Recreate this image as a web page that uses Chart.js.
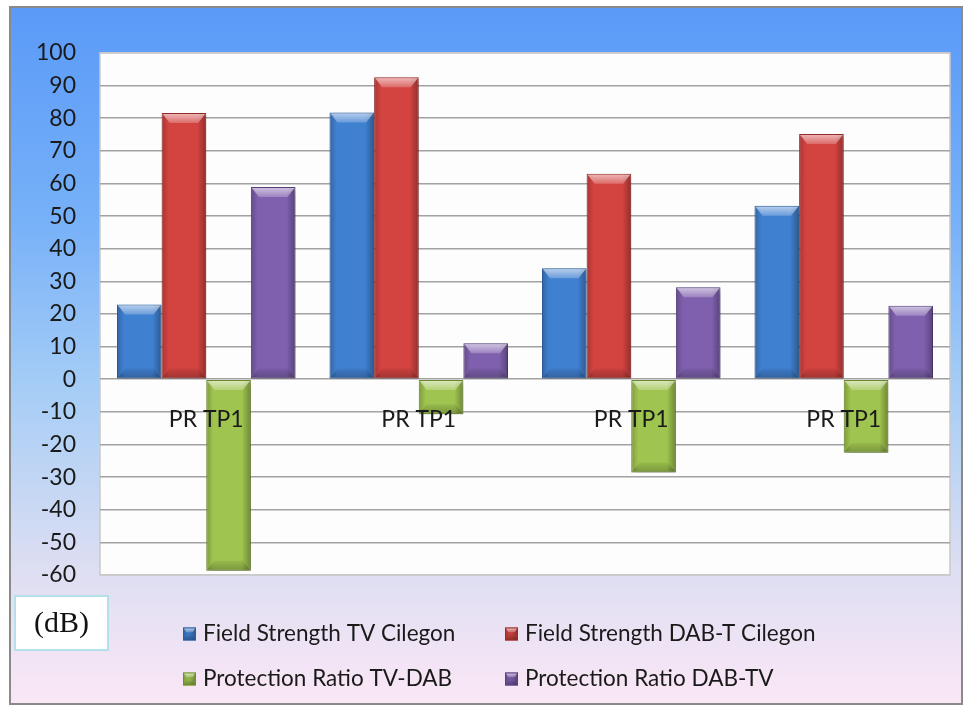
<!DOCTYPE html>
<html>
<head>
<meta charset="utf-8">
<title>PR TP1 – Field Strength and Protection Ratio</title>
<script src="https://cdn.jsdelivr.net/npm/chart.js@4.4.1/dist/chart.umd.min.js"></script>
<style>
  html, body { margin: 0; padding: 0; background: #ffffff; }
  #wrap { position: relative; width: 968px; height: 708px; }
</style>
</head>
<body>
<div id="wrap"><canvas id="chart" width="968" height="708"></canvas></div>
<script>
// Measurement points (all four columns are the same site label)
const categories = ['PR TP1', 'PR TP1', 'PR TP1', 'PR TP1'];

// Values in dB
const fieldStrengthTV = [22.9, 81.8, 34.0, 53.2];
const fieldStrengthDAB = [81.6, 92.6, 63.0, 75.2];
const protectionTvDab = [-58.7, -10.7, -28.6, -22.5];
const protectionDabTv = [58.9, 11.0, 28.2, 22.5];

const seriesNames = [
  'Field Strength TV Cilegon',
  'Field Strength DAB-T Cilegon',
  'Protection Ratio TV-DAB',
  'Protection Ratio DAB-TV'
];

// Value axis range and step
const yMin = -60;
const yMax = 100;
const yStep = 10;

const unitLabel = '(dB)';

const fills = ['#4080d0', '#d34340', '#9fc44f', '#7f60ae'];
const edges = ['#2c5f9e', '#982d2b', '#6e8d2e', '#58417f'];

const FONT = 'Lato';

// Background frame, plot area and unit box
const framePlugin = {
  id: 'frame',
  beforeDraw(chart) {
    const ctx = chart.ctx;
    const a = chart.chartArea;
    ctx.save();
    ctx.fillStyle = '#ffffff';
    ctx.fillRect(0, 0, chart.width, chart.height);

    const g = ctx.createLinearGradient(0, 7, 0, 704);
    g.addColorStop(0.00, '#5a9af8');
    g.addColorStop(0.30, '#76b0f8');
    g.addColorStop(0.55, '#a6cdf6');
    g.addColorStop(0.80, '#dcdef2');
    g.addColorStop(1.00, '#fbe7f6');
    ctx.fillStyle = g;
    ctx.fillRect(10, 7, 952, 697);
    ctx.strokeStyle = '#8a8a8a';
    ctx.lineWidth = 2;
    ctx.strokeRect(10, 7, 952, 697);

    // plot area
    ctx.fillStyle = '#fdfdfd';
    ctx.fillRect(a.left, a.top, a.right - a.left, a.bottom - a.top);
    ctx.strokeStyle = '#c9c9c9';
    ctx.lineWidth = 1.5;
    ctx.strokeRect(a.left, a.top, a.right - a.left, a.bottom - a.top);

    // unit box
    ctx.fillStyle = '#ffffff';
    ctx.fillRect(15, 596, 93, 54);
    ctx.strokeStyle = '#b4e0ea';
    ctx.lineWidth = 2;
    ctx.strokeRect(15, 596, 93, 54);
    ctx.fillStyle = '#111111';
    ctx.font = '30px "Liberation Serif", "DejaVu Serif", serif';
    ctx.textAlign = 'center';
    ctx.textBaseline = 'middle';
    ctx.fillText(unitLabel, 61.5, 624);
    ctx.restore();
  }
};

// Drop shadow behind the bars
const shadowPlugin = {
  id: 'barShadow',
  beforeDatasetsDraw(chart) {
    const ctx = chart.ctx;
    ctx.save();
    ctx.shadowColor = 'rgba(0,0,0,0.30)';
    ctx.shadowBlur = 6;
    ctx.shadowOffsetX = 2;
    ctx.shadowOffsetY = 3;
  },
  afterDatasetsDraw(chart) {
    chart.ctx.restore();
  }
};

// Bevel highlights on each bar
function bevel(ctx, left, top, right, bottom) {
  const w = right - left, h = bottom - top;
  if (w <= 0 || h <= 0) return;
  const cap = Math.min(9, h / 3);
  const ins = Math.min(7, w / 5);

  // right-hand shading
  let g = ctx.createLinearGradient(right - 8, 0, right, 0);
  g.addColorStop(0, 'rgba(0,0,0,0)');
  g.addColorStop(1, 'rgba(0,0,0,0.28)');
  ctx.fillStyle = g;
  ctx.fillRect(right - 8, top, 8, h);

  // left-hand shading
  g = ctx.createLinearGradient(left, 0, left + 6, 0);
  g.addColorStop(0, 'rgba(0,0,0,0.18)');
  g.addColorStop(1, 'rgba(0,0,0,0)');
  ctx.fillStyle = g;
  ctx.fillRect(left, top, 6, h);

  // top cap
  g = ctx.createLinearGradient(0, top, 0, top + cap);
  g.addColorStop(0, 'rgba(255,255,255,0.60)');
  g.addColorStop(1, 'rgba(255,255,255,0.22)');
  ctx.fillStyle = g;
  ctx.beginPath();
  ctx.moveTo(left, top);
  ctx.lineTo(right, top);
  ctx.lineTo(right - ins, top + cap);
  ctx.lineTo(left + ins, top + cap);
  ctx.closePath();
  ctx.fill();

  // bottom bevel
  g = ctx.createLinearGradient(0, bottom - cap, 0, bottom);
  g.addColorStop(0, 'rgba(0,0,0,0.05)');
  g.addColorStop(1, 'rgba(0,0,0,0.22)');
  ctx.fillStyle = g;
  ctx.beginPath();
  ctx.moveTo(left + ins, bottom - cap);
  ctx.lineTo(right - ins, bottom - cap);
  ctx.lineTo(right, bottom);
  ctx.lineTo(left, bottom);
  ctx.closePath();
  ctx.fill();
}

const bevelPlugin = {
  id: 'bevel',
  afterDatasetsDraw(chart) {
    const ctx = chart.ctx;
    ctx.save();
    chart.data.datasets.forEach((ds, i) => {
      const meta = chart.getDatasetMeta(i);
      meta.data.forEach(bar => {
        const p = bar.getProps(['x', 'y', 'base', 'width'], true);
        const left = p.x - p.width / 2, right = p.x + p.width / 2;
        const top = Math.min(p.y, p.base), bottom = Math.max(p.y, p.base);
        bevel(ctx, left + 1, top + 1, right - 1, bottom - 1);
      });
    });
    ctx.restore();
  }
};

// Two-column legend below the plot
const legendPlugin = {
  id: 'gridLegend',
  afterDraw(chart) {
    const ctx = chart.ctx;
    const colX = [183, 505];
    const rowY = [634, 679];
    ctx.save();
    ctx.font = '22.5px ' + FONT;
    ctx.textBaseline = 'middle';
    ctx.textAlign = 'left';
    chart.data.datasets.forEach((ds, i) => {
      const bx = colX[i % 2], by = rowY[Math.floor(i / 2)];
      const s = 13;
      ctx.fillStyle = ds.backgroundColor;
      ctx.fillRect(bx, by - s / 2, s, s);
      ctx.strokeStyle = ds.borderColor;
      ctx.lineWidth = 1;
      ctx.strokeRect(bx + 0.5, by - s / 2 + 0.5, s - 1, s - 1);
      bevel(ctx, bx + 1, by - s / 2 + 1, bx + s - 1, by + s / 2 - 1);
      ctx.fillStyle = '#1a1a1a';
      ctx.fillText(ds.label, bx + 20, by);
    });
    ctx.restore();
  }
};

const seriesValues = [fieldStrengthTV, fieldStrengthDAB, protectionTvDab, protectionDabTv];

const datasets = seriesValues.map((vals, i) => ({
  label: seriesNames[i],
  data: vals,
  backgroundColor: fills[i],
  borderColor: edges[i],
  borderWidth: 1,
  borderSkipped: false,
  barPercentage: 1.0,
  categoryPercentage: 0.84
}));

new Chart(document.getElementById('chart'), {
  type: 'bar',
  data: { labels: categories, datasets },
  options: {
    responsive: false,
    animation: false,
    layout: { padding: { left: 0, right: 18, top: 53, bottom: 133 } },
    plugins: {
      legend: { display: false },
      tooltip: { enabled: false }
    },
    scales: {
      x: {
        position: { y: 0 },
        afterFit(scale) { scale.height = 0; },
        grid: { display: false, drawTicks: false },
        border: { display: false },
        ticks: {
          z: 1,
          color: '#1a1a1a',
          font: { family: FONT, size: 23 },
          padding: 27,
          maxRotation: 0,
          autoSkip: false
        }
      },
      y: {
        min: yMin,
        max: yMax,
        afterFit(scale) { scale.width = 100; },
        border: { display: false },
        grid: {
          drawTicks: false,
          lineWidth: 1.6,
          color(ctx) {
            const v = ctx.tick && ctx.tick.value;
            return (v === yMax || v === yMin) ? '#c9c9c9' : '#a2a2a2';
          }
        },
        ticks: {
          stepSize: yStep,
          color: '#1a1a1a',
          font: { family: FONT, size: 23 },
          padding: 24
        }
      }
    }
  },
  plugins: [framePlugin, shadowPlugin, bevelPlugin, legendPlugin]
});
</script>
</body>
</html>
